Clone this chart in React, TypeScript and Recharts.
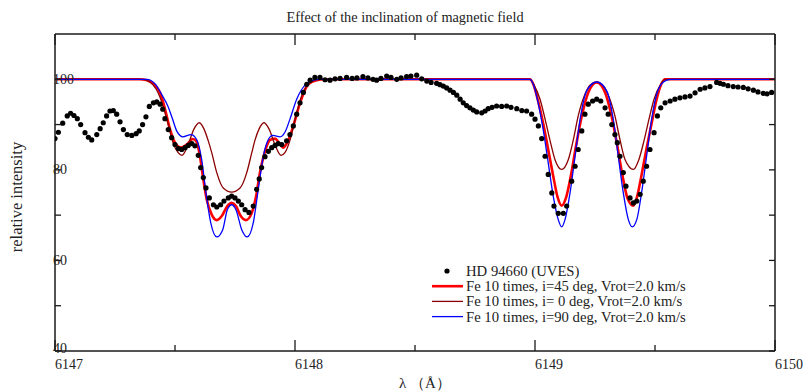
import React from "react";
import { ComposedChart, Line, Scatter, XAxis, YAxis } from "recharts";

// ---- data (wavelength in Å, relative intensity in %) ----
const obsLambda = [
  6147.000, 6147.014, 6147.032, 6147.051, 6147.065, 6147.079, 6147.093, 6147.107, 6147.125, 6147.139,
  6147.153, 6147.174, 6147.188, 6147.201, 6147.215, 6147.229, 6147.243, 6147.257, 6147.271, 6147.285,
  6147.301, 6147.320, 6147.338, 6147.351, 6147.365, 6147.379, 6147.393, 6147.410, 6147.424, 6147.438,
  6147.449, 6147.458, 6147.472, 6147.486, 6147.500, 6147.514, 6147.528, 6147.542, 6147.555, 6147.570,
  6147.583, 6147.597, 6147.607, 6147.618, 6147.629, 6147.643, 6147.660, 6147.674, 6147.690, 6147.704,
  6147.722, 6147.736, 6147.750, 6147.764, 6147.778, 6147.792, 6147.808, 6147.826, 6147.840, 6147.851,
  6147.861, 6147.875, 6147.889, 6147.903, 6147.917, 6147.930, 6147.945, 6147.965, 6147.979, 6147.993,
  6148.007, 6148.021, 6148.035, 6148.049, 6148.063, 6148.083, 6148.104, 6148.125, 6148.146, 6148.167,
  6148.188, 6148.215, 6148.238, 6148.258, 6148.283, 6148.304, 6148.325, 6148.340, 6148.358, 6148.382,
  6148.400, 6148.424, 6148.442, 6148.465, 6148.483, 6148.507, 6148.528, 6148.549, 6148.567, 6148.590,
  6148.604, 6148.618, 6148.632, 6148.646, 6148.660, 6148.674, 6148.688, 6148.701, 6148.715, 6148.729,
  6148.743, 6148.757, 6148.778, 6148.792, 6148.805, 6148.821, 6148.840, 6148.861, 6148.882, 6148.900,
  6148.924, 6148.945, 6148.965, 6148.986, 6149.000, 6149.014, 6149.028, 6149.042, 6149.055, 6149.070,
  6149.079, 6149.097, 6149.118, 6149.132, 6149.153, 6149.167, 6149.180, 6149.195, 6149.208, 6149.222,
  6149.240, 6149.257, 6149.274, 6149.292, 6149.305, 6149.320, 6149.333, 6149.343, 6149.354, 6149.368,
  6149.379, 6149.396, 6149.410, 6149.424, 6149.438, 6149.451, 6149.465, 6149.479, 6149.496, 6149.510,
  6149.524, 6149.542, 6149.563, 6149.583, 6149.604, 6149.625, 6149.646, 6149.667, 6149.688, 6149.708,
  6149.729, 6149.757, 6149.771, 6149.785, 6149.804, 6149.826, 6149.846, 6149.868, 6149.888, 6149.910,
  6149.929, 6149.951, 6149.967, 6149.986,
];
const obsIntensity = [
  86.9, 88.3, 90.3, 91.9, 92.5, 92.0, 91.3, 90.0, 88.2, 87.2,
  86.6, 87.8, 89.1, 90.4, 91.9, 93.0, 93.1, 92.3, 90.6, 88.9,
  87.8, 87.6, 88.0, 88.6, 90.0, 91.7, 94.0, 94.8, 95.0, 94.5,
  93.4, 91.3, 88.9, 87.1, 85.6, 84.7, 84.5, 84.9, 85.4, 85.8,
  85.3, 83.2, 80.5, 78.3, 76.0, 73.8, 72.3, 71.8, 72.3, 73.1,
  73.8, 74.2, 73.8, 73.1, 72.3, 71.2, 70.6, 72.0, 75.7, 78.0,
  80.5, 82.9, 84.1, 84.9, 85.4, 85.8, 85.6, 86.4, 87.8, 89.7,
  92.3, 94.8, 97.1, 98.9, 99.8, 100.4, 100.4, 99.9, 99.8, 100.1,
  100.2, 100.4, 100.2, 100.3, 100.6, 100.3, 100.0, 99.8, 100.2, 100.7,
  100.4, 100.0, 100.3, 100.6, 100.7, 100.9, 100.1, 99.6, 99.3, 99.1,
  98.8, 98.5, 98.1, 97.6, 97.1, 96.5, 95.6, 94.8, 94.2, 93.7,
  93.2, 92.8, 92.6, 93.0, 93.5, 93.8, 94.1, 94.0, 94.1, 93.8,
  93.5, 93.1, 93.0, 92.3, 91.2, 89.7, 86.9, 83.0, 79.0, 74.9,
  72.0, 70.4, 70.4, 72.0, 77.5, 80.8, 84.5, 88.6, 92.3, 94.5,
  95.2, 95.6, 95.2, 93.7, 92.3, 90.0, 87.8, 86.0, 83.0, 79.4,
  76.4, 73.8, 72.7, 73.1, 74.6, 77.5, 80.8, 84.5, 88.2, 91.9,
  93.7, 94.8, 95.2, 95.6, 95.9, 96.1, 96.3, 97.0, 97.8, 98.1,
  98.4, 99.3, 99.1, 98.9, 98.6, 98.4, 98.3, 98.2, 97.9, 97.6,
  97.2, 96.9, 96.8, 97.1,
];

const fe45Lambda = [
  6147.000, 6147.354, 6147.375, 6147.396, 6147.438, 6147.458, 6147.479, 6147.500, 6147.525, 6147.549,
  6147.574, 6147.590, 6147.604, 6147.618, 6147.632, 6147.653, 6147.674, 6147.695, 6147.718, 6147.736,
  6147.754, 6147.774, 6147.796, 6147.820, 6147.838, 6147.854, 6147.875, 6147.896, 6147.917, 6147.933,
  6147.951, 6147.971, 6147.993, 6148.021, 6148.055, 6148.090, 6148.125, 6148.979, 6148.993, 6149.013,
  6149.035, 6149.055, 6149.076, 6149.093, 6149.111, 6149.129, 6149.149, 6149.171, 6149.195, 6149.222,
  6149.257, 6149.292, 6149.319, 6149.343, 6149.365, 6149.385, 6149.410, 6149.426, 6149.443, 6149.464,
  6149.485, 6149.505, 6149.526, 6149.542, 6150.000,
];
const fe45Intensity = [
  100, 100, 99.9, 99.5, 97.0, 93.5, 89.0, 86.0, 84.9, 85.6,
  86.8, 86.2, 83.0, 77.9, 73.5, 70.1, 68.9, 69.8, 72.0, 72.7,
  72.0, 69.8, 68.9, 70.5, 74.2, 79.4, 84.1, 86.6, 86.9, 86.0,
  84.9, 86.4, 89.7, 94.8, 98.9, 99.8, 100, 100, 98.9, 95.2,
  90.0, 84.5, 78.6, 74.2, 72.1, 73.8, 78.6, 85.3, 91.9, 97.1,
  99.3, 97.1, 91.9, 85.3, 78.6, 73.8, 72.1, 74.2, 78.6, 84.5,
  90.0, 95.2, 98.9, 100, 100,
];

const fe0Lambda = [
  6147.000, 6147.367, 6147.396, 6147.438, 6147.467, 6147.492, 6147.513, 6147.529, 6147.554, 6147.579,
  6147.601, 6147.621, 6147.638, 6147.653, 6147.674, 6147.701, 6147.736, 6147.771, 6147.799, 6147.820,
  6147.833, 6147.850, 6147.871, 6147.892, 6147.917, 6147.942, 6147.958, 6147.979, 6148.004, 6148.029,
  6148.063, 6148.104, 6148.979, 6148.993, 6149.021, 6149.042, 6149.063, 6149.083, 6149.111, 6149.139,
  6149.160, 6149.180, 6149.208, 6149.229, 6149.257, 6149.283, 6149.304, 6149.333, 6149.354, 6149.375,
  6149.410, 6149.433, 6149.454, 6149.475, 6149.496, 6149.525, 6149.542, 6150.000,
];
const fe0Intensity = [
  100, 100, 99.4, 96.0, 91.0, 86.0, 83.8, 83.2, 85.5, 89.0,
  90.4, 89.0, 86.5, 83.8, 79.4, 76.0, 75.1, 76.0, 79.4, 83.8,
  86.5, 89.0, 90.4, 89.0, 85.5, 83.2, 83.8, 86.5, 92.0, 96.5,
  99.3, 100, 100, 99.0, 95.6, 91.2, 86.4, 82.3, 80.1, 82.3,
  86.7, 91.9, 96.7, 98.7, 99.4, 98.7, 96.7, 91.9, 86.7, 82.3,
  80.1, 82.3, 86.4, 91.2, 95.6, 99.0, 100, 100,
];

const fe90Lambda = [
  6147.000, 6147.383, 6147.417, 6147.446, 6147.471, 6147.488, 6147.508, 6147.533, 6147.567, 6147.590,
  6147.611, 6147.629, 6147.649, 6147.674, 6147.699, 6147.718, 6147.736, 6147.754, 6147.778, 6147.801,
  6147.826, 6147.847, 6147.868, 6147.889, 6147.908, 6147.938, 6147.958, 6147.979, 6148.007, 6148.049,
  6148.076, 6148.104, 6148.979, 6148.993, 6149.013, 6149.035, 6149.055, 6149.076, 6149.097, 6149.111,
  6149.125, 6149.146, 6149.167, 6149.188, 6149.215, 6149.257, 6149.299, 6149.326, 6149.347, 6149.368,
  6149.389, 6149.405, 6149.424, 6149.444, 6149.465, 6149.486, 6149.507, 6149.535, 6149.563, 6150.000,
];
const fe90Intensity = [
  100, 100, 99.0, 96.5, 94.0, 91.5, 88.5, 87.3, 87.8, 86.7,
  82.3, 74.9, 68.3, 65.2, 66.8, 71.2, 72.3, 71.2, 66.8, 65.2,
  68.3, 75.7, 83.0, 86.7, 87.6, 87.3, 88.3, 91.2, 95.6, 99.1,
  99.8, 100, 100, 98.9, 94.8, 88.6, 81.6, 74.2, 69.0, 67.4,
  69.0, 74.9, 83.0, 91.2, 97.4, 99.4, 97.4, 91.2, 83.0, 74.9,
  69.0, 67.4, 69.0, 74.9, 83.0, 91.2, 96.7, 99.4, 100, 100,
];

const xTicks = [6147, 6147.5, 6148, 6148.5, 6149, 6149.5, 6150];
const yTicks = [40, 50, 60, 70, 80, 90, 100];
const yLabelTicks = [40, 60, 80, 100];

const legendLabels = [
  "HD 94660 (UVES)",
  "Fe 10 times, i=45 deg, Vrot=2.0 km/s",
  "Fe 10 times, i= 0 deg, Vrot=2.0 km/s",
  "Fe 10 times, i=90 deg, Vrot=2.0 km/s",
];

const zip = (xs: number[], ys: number[]) => xs.map((x, i) => ({ x, y: ys[i] }));
const obsData = zip(obsLambda, obsIntensity);
const fe45Data = zip(fe45Lambda, fe45Intensity);
const fe0Data = zip(fe0Lambda, fe0Intensity);
const fe90Data = zip(fe90Lambda, fe90Intensity);

const FONT = "'Liberation Serif', 'Times New Roman', serif";
const AX = "#1a1a1a";

const BottomTick = (p: any) => {
  const { x, y, payload } = p;
  const v = payload.value;
  const major = Number.isInteger(v);
  return (
    <g>
      <line x1={x} y1={y} x2={x} y2={y - (major ? 11 : 6)} stroke={AX} strokeWidth={1.3} />
      {major && (
        <text x={x} y={y + 18} textAnchor="start" fontSize={14} fontFamily={FONT} fill="#222">
          {v}
        </text>
      )}
    </g>
  );
};
const TopTick = (p: any) => {
  const { x, y, payload } = p;
  const major = Number.isInteger(payload.value);
  return <line x1={x} y1={y} x2={x} y2={y + (major ? 11 : 6)} stroke={AX} strokeWidth={1.3} />;
};
const LeftTick = (p: any) => {
  const { x, y, payload } = p;
  const v = payload.value;
  const dy = v === 40 ? 1.5 : 4.5;
  return (
    <g>
      <line x1={x} y1={y} x2={x + 6} y2={y} stroke={AX} strokeWidth={1.3} />
      {yLabelTicks.includes(v) && (
        <text x={x - 2} y={y + dy} textAnchor="start" fontSize={14} fontFamily={FONT} fill="#222">
          {v}
        </text>
      )}
    </g>
  );
};
const RightTick = (p: any) => {
  const { x, y } = p;
  return <line x1={x} y1={y} x2={x - 6} y2={y} stroke={AX} strokeWidth={1.3} />;
};

const Dot = (p: any) => <circle cx={p.cx} cy={p.cy} r={2.6} fill="#000" />;

export default function App() {
  const W = 807;
  const H = 392;
  const legendX = 432;
  const legendY = 271;
  const rowH = 15.2;
  const colors = ["#ff0000", "#8b0000", "#0000ff"];
  const widths = [2.6, 1.3, 1.3];
  return (
    <div style={{ position: "absolute", left: 0, top: 0, width: W, height: H, background: "#fff" }}>
      <ComposedChart width={W} height={H} margin={{ top: 33, left: 54, right: 31, bottom: 40 }}>
        <XAxis
          xAxisId="b"
          dataKey="x"
          type="number"
          domain={[6147, 6150]}
          ticks={xTicks}
          interval={0}
          height={1}
          tickSize={0}
          tickMargin={0}
          tick={<BottomTick />}
          tickLine={false}
          axisLine={{ stroke: AX, strokeWidth: 1.5 }}
          allowDataOverflow
        />
        <XAxis
          xAxisId="t"
          orientation="top"
          dataKey="x"
          type="number"
          domain={[6147, 6150]}
          ticks={xTicks}
          interval={0}
          height={1}
          tickSize={0}
          tickMargin={0}
          tick={<TopTick />}
          tickLine={false}
          axisLine={{ stroke: AX, strokeWidth: 1.5 }}
          allowDataOverflow
        />
        <YAxis
          yAxisId="l"
          type="number"
          domain={[40, 110]}
          ticks={yTicks}
          interval={0}
          width={1}
          tickSize={0}
          tickMargin={0}
          tick={<LeftTick />}
          tickLine={false}
          axisLine={{ stroke: AX, strokeWidth: 1.5 }}
          allowDataOverflow
        />
        <YAxis
          yAxisId="r"
          orientation="right"
          type="number"
          domain={[40, 110]}
          ticks={yTicks}
          interval={0}
          width={1}
          tickSize={0}
          tickMargin={0}
          tick={<RightTick />}
          tickLine={false}
          axisLine={{ stroke: AX, strokeWidth: 1.5 }}
          allowDataOverflow
        />
        <Scatter
          xAxisId="b"
          yAxisId="l"
          data={obsData}
          dataKey="y"
          shape={<Dot />}
          isAnimationActive={false}
        />
        <Line xAxisId="b" yAxisId="l" data={fe45Data} dataKey="y" type="monotone" stroke={colors[0]} strokeWidth={widths[0]} dot={false} activeDot={false} isAnimationActive={false} />
        <Line xAxisId="b" yAxisId="l" data={fe0Data} dataKey="y" type="monotone" stroke={colors[1]} strokeWidth={widths[1]} dot={false} activeDot={false} isAnimationActive={false} />
        <Line xAxisId="b" yAxisId="l" data={fe90Data} dataKey="y" type="monotone" stroke={colors[2]} strokeWidth={widths[2]} dot={false} activeDot={false} isAnimationActive={false} />
      </ComposedChart>
      <svg width={W} height={H} style={{ position: "absolute", left: 0, top: 0, pointerEvents: "none" }}>
        <text x={405} y={22} textAnchor="middle" fontSize={14.3} fontFamily={FONT} fill="#222">
          Effect of the inclination of magnetic field
        </text>
        <text x={22} y={197} textAnchor="middle" fontSize={16.5} fontFamily={FONT} fill="#222" transform="rotate(-90 22 197)">
          relative intensity
        </text>
        <text x={425} y={388} textAnchor="middle" fontSize={15} fontFamily={FONT} fill="#222">
          λ （Å）
        </text>
        <g>
          <circle cx={legendX + 15} cy={legendY} r={2.6} fill="#000" />
          <text x={legendX + 34} y={legendY + 5} fontSize={14.7} fontFamily={FONT} fill="#222">{legendLabels[0]}</text>
          {[1, 2, 3].map((i) => (
            <g key={i}>
              <line x1={legendX} x2={legendX + 31} y1={legendY + i * rowH} y2={legendY + i * rowH} stroke={colors[i - 1]} strokeWidth={widths[i - 1]} />
              <text x={legendX + 34} y={legendY + i * rowH + 5} fontSize={14.7} fontFamily={FONT} fill="#222">{legendLabels[i]}</text>
            </g>
          ))}
        </g>
      </svg>
    </div>
  );
}
